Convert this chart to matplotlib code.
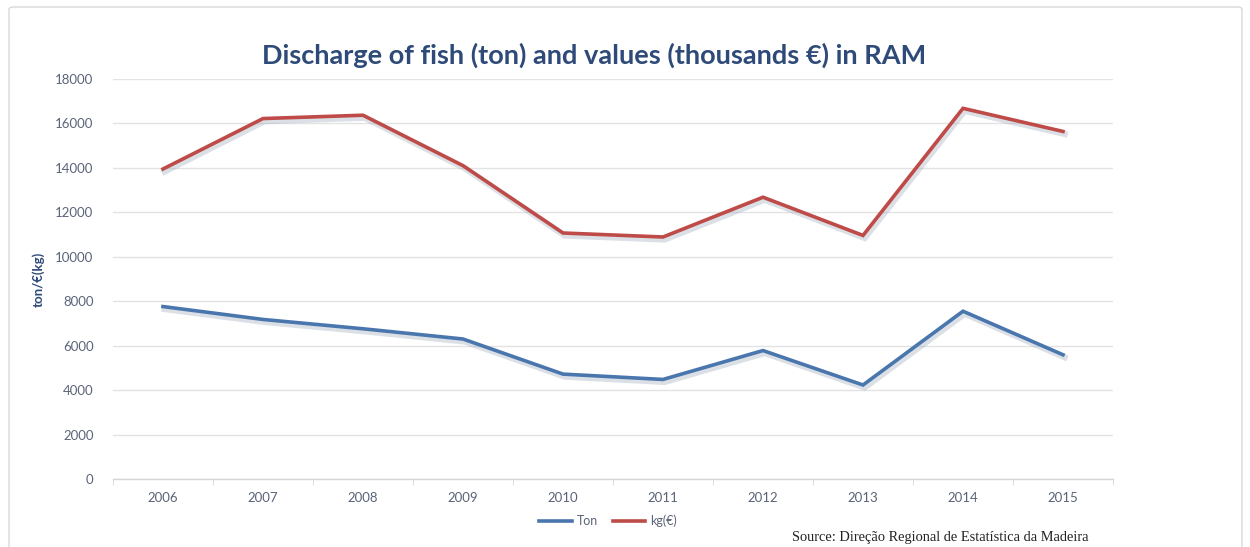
import matplotlib
matplotlib.use("Agg")
import matplotlib.pyplot as plt
import matplotlib.patheffects as pe
from matplotlib.patches import FancyBboxPatch
from matplotlib.lines import Line2D

years = ["2006", "2007", "2008", "2009", "2010", "2011", "2012", "2013", "2014", "2015"]
ton = [7760, 7180, 6760, 6300, 4720, 4480, 5780, 4230, 7550, 5590]
kg_eur = [13950, 16220, 16370, 14100, 11070, 10890, 12680, 10960, 16680, 15640]
y_ticks = [0, 2000, 4000, 6000, 8000, 10000, 12000, 14000, 16000, 18000]

title = "Discharge of fish (ton) and values (thousands \u20ac) in RAM"
y_label = "ton/\u20ac(kg)"
series_names = ["Ton", "kg(\u20ac)"]
source = "Source: Dire\u00e7\u00e3o Regional de Estat\u00edstica da Madeira"

BLUE = "#4A76AE"
RED = "#BE4B48"
TEXT = "#5A6478"
TITLE = "#2E4A78"
GRID = "#E3E3E3"

W, H = 1250, 547
fig = plt.figure(figsize=(W / 100, H / 100), dpi=100)
fig.patch.set_facecolor("white")

# chart frame (bottom edge runs past the canvas)
frame = FancyBboxPatch((9 / W, -6 / H), 1233 / W, 546 / H,
                       boxstyle="round,pad=0,rounding_size=0.004",
                       transform=fig.transFigure, facecolor="none",
                       edgecolor="#D9D9D9", linewidth=1.0, zorder=-5)
fig.patches.append(frame)

ax = fig.add_axes([113 / W, 1 - 479 / H, 1000 / W, 400 / H])
ax.set_facecolor("none")

x = list(range(len(years)))
shadow = [pe.SimpleLineShadow(offset=(1.2, -1.8), shadow_color="#9AA7B8", alpha=0.35, linewidth=4.5), pe.Normal()]
ax.plot(x, ton, color=BLUE, linewidth=2.6, solid_joinstyle="miter", path_effects=shadow, zorder=3)
ax.plot(x, kg_eur, color=RED, linewidth=2.6, solid_joinstyle="miter", path_effects=shadow, zorder=3)

ax.set_xlim(-0.5, len(years) - 0.5)
ax.set_ylim(0, 18000)
ax.set_yticks(y_ticks)
ax.set_yticklabels([str(v) for v in y_ticks])
ax.set_xticks(x)
ax.set_xticklabels(years)

ax.grid(axis="y", color=GRID, linewidth=1.0, zorder=0)
ax.set_axisbelow(True)
for s in ["top", "right", "left"]:
    ax.spines[s].set_visible(False)
ax.spines["bottom"].set_color("#D6D6D6")
ax.spines["bottom"].set_linewidth(1.0)

# category boundary ticks
ax.set_xticks([i - 0.5 for i in range(len(years) + 1)], minor=True)
ax.tick_params(axis="x", which="minor", length=4, color="#D6D6D6", direction="out")
ax.tick_params(axis="x", which="major", length=0, pad=9, labelsize=9.5, labelcolor=TEXT)
ax.tick_params(axis="y", length=0, pad=14, labelsize=9.5, labelcolor=TEXT)
for lab in ax.get_xticklabels() + ax.get_yticklabels():
    lab.set_fontfamily("Lato")

fig.text(38 / W, 1 - 279 / H, y_label, rotation=90, ha="center", va="center",
         fontsize=9.5, fontweight="bold", color=TITLE, family="Lato")

fig.text(594 / W, 1 - 55 / H, title, ha="center", va="center",
         fontsize=19.5, fontweight="bold", color=TITLE, family="Lato")

handles = [Line2D([], [], color=BLUE, linewidth=2.6),
           Line2D([], [], color=RED, linewidth=2.6)]
leg = fig.legend(handles, series_names, loc="center", bbox_to_anchor=(608 / W, 1 - 521 / H),
                 ncol=2, frameon=False, handlelength=2.6, handletextpad=0.4,
                 columnspacing=1.2, prop={"family": "Lato", "size": 9})
for t in leg.get_texts():
    t.set_color(TEXT)

fig.text(940 / W, 1 - 538 / H, source, ha="center", va="center",
         fontsize=10.4, color="#222222", family="Liberation Serif")

fig.savefig("out.png", dpi=100)
